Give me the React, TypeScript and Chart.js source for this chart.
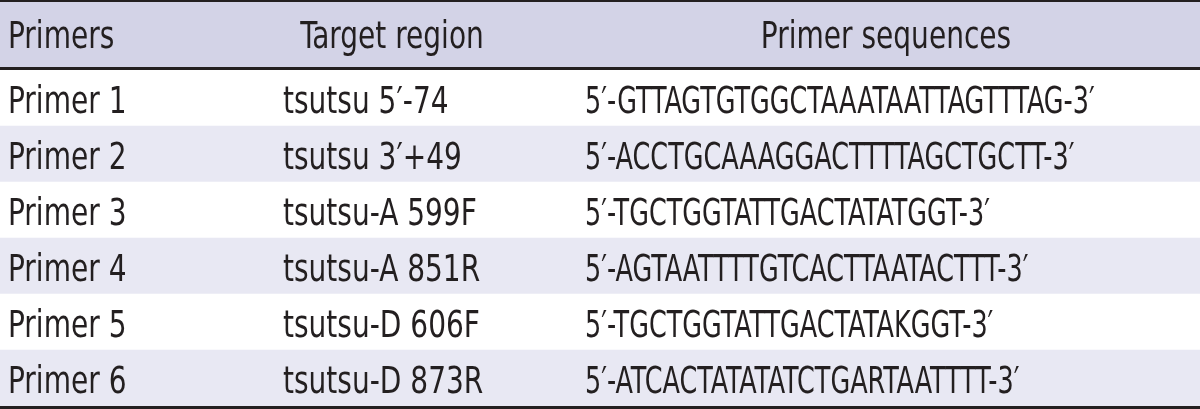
import React, { useEffect, useRef } from "react";
import { Chart, registerables } from "chart.js";

Chart.register(...registerables);

const headers = ["Primers", "Target region", "Primer sequences"];
const primers = ["Primer 1", "Primer 2", "Primer 3", "Primer 4", "Primer 5", "Primer 6"];
const targetRegions = [
  "tsutsu 5′-74",
  "tsutsu 3′+49",
  "tsutsu-A 599F",
  "tsutsu-A 851R",
  "tsutsu-D 606F",
  "tsutsu-D 873R",
];
const sequences = [
  "5′-GTTAGTGTGGCTAAATAATTAGTTTAG-3′",
  "5′-ACCTGCAAAGGACTTTTAGCTGCTT-3′",
  "5′-TGCTGGTATTGACTATATGGT-3′",
  "5′-AGTAATTTTGTCACTTAATACTTT-3′",
  "5′-TGCTGGTATTGACTATAKGGT-3′",
  "5′-ATCACTATATATCTGARTAATTTT-3′",
];

const W = 1200;
const H = 409;
const TEXT = "#231f20";
const HEADER_BG = "#d3d3e7";
const ALT_BG = "#e8e8f3";
const FONT = '"DejaVu Sans Condensed", "Liberation Sans Narrow", sans-serif';
const FONT_SIZE = 37;
const SX_TEXT = 0.842;
const SX_SEQ = 0.766;
const colX = [8, 283, 585];
const headerCenters = [8, 392, 886];

function drawText(ctx: CanvasRenderingContext2D, s: string, x: number, y: number, sx: number, align: CanvasTextAlign) {
  ctx.save();
  ctx.translate(x, y);
  ctx.scale(sx, 1);
  ctx.textAlign = align;
  ctx.fillText(s, 0, 0);
  ctx.restore();
}

export default function App() {
  const ref = useRef<HTMLCanvasElement | null>(null);

  useEffect(() => {
    if (!ref.current) return;
    const tablePlugin = {
      id: "tableText",
      beforeDatasetsDraw(chart: any) {
        const { ctx, chartArea } = chart;
        ctx.save();
        ctx.fillStyle = HEADER_BG;
        ctx.fillRect(0, 0, W, chartArea.top);
        ctx.restore();
      },
      afterDatasetsDraw(chart: any) {
        const { ctx, chartArea, scales } = chart;
        const y = scales.y;
        ctx.save();
        ctx.fillStyle = TEXT;
        ctx.font = `${FONT_SIZE}px ${FONT}`;
        ctx.textBaseline = "middle";
        const hy = (2 + chartArea.top - 3) / 2 + 4;
        drawText(ctx, headers[0], headerCenters[0], hy, SX_TEXT, "left");
        drawText(ctx, headers[1], headerCenters[1], hy, SX_TEXT, "center");
        drawText(ctx, headers[2], headerCenters[2], hy, SX_TEXT, "center");
        primers.forEach((p, i) => {
          const py = y.getPixelForValue(i) + 5;
          drawText(ctx, p, colX[0], py, SX_TEXT, "left");
          drawText(ctx, targetRegions[i], colX[1], py, SX_TEXT, "left");
          drawText(ctx, sequences[i], colX[2], py, SX_SEQ, "left");
        });
        ctx.fillStyle = TEXT;
        ctx.fillRect(0, 0, W, 2);
        ctx.fillRect(0, chartArea.top - 3, W, 3);
        ctx.fillRect(0, chartArea.bottom, W, 3);
        ctx.restore();
      },
    };

    const chart = new Chart(ref.current, {
      type: "bar",
      data: {
        labels: primers,
        datasets: [
          {
            data: primers.map(() => W),
            backgroundColor: primers.map((_, i) => (i % 2 === 1 ? ALT_BG : "#ffffff")),
            borderWidth: 0,
            barPercentage: 1,
            categoryPercentage: 1,
          },
        ],
      },
      options: {
        indexAxis: "y",
        animation: false,
        responsive: false,
        maintainAspectRatio: false,
        layout: { padding: { top: 70, bottom: 3, left: 0, right: 0 } },
        plugins: { legend: { display: false }, tooltip: { enabled: false } },
        scales: {
          x: { type: "linear", min: 0, max: W, display: false },
          y: { type: "category", display: false, offset: true },
        },
      },
      plugins: [tablePlugin],
    });
    return () => chart.destroy();
  }, []);

  return (
    <div style={{ position: "fixed", left: 0, top: 0, width: W, height: H, background: "#fff" }}>
      <canvas ref={ref} width={W} height={H} style={{ width: W, height: H, display: "block" }} />
    </div>
  );
}
